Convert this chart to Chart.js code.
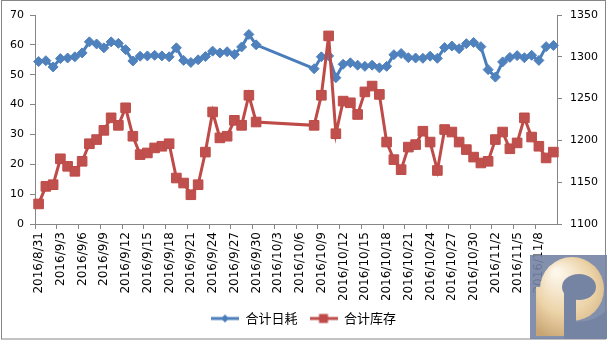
<!DOCTYPE html>
<html>
<head>
<meta charset="utf-8">
<script src="https://cdn.jsdelivr.net/npm/chart.js@4.4.0/dist/chart.umd.min.js"></script>
<style>
html,body{margin:0;padding:0;background:#fff;}
#wrap{width:607px;height:341px;position:relative;}
</style>
</head>
<body>
<div id="wrap"><canvas id="chart" width="607" height="341"></canvas></div>
<script>
// 数据
const dates = [
    "2016/8/31","2016/9/1","2016/9/2","2016/9/3","2016/9/4","2016/9/5","2016/9/6","2016/9/7","2016/9/8","2016/9/9",
    "2016/9/10","2016/9/11","2016/9/12","2016/9/13","2016/9/14","2016/9/15","2016/9/16","2016/9/17","2016/9/18","2016/9/19",
    "2016/9/20","2016/9/21","2016/9/22","2016/9/23","2016/9/24","2016/9/25","2016/9/26","2016/9/27","2016/9/28","2016/9/29",
    "2016/9/30",
    "2016/10/8","2016/10/9","2016/10/10","2016/10/11","2016/10/12","2016/10/13","2016/10/14","2016/10/15","2016/10/16","2016/10/17",
    "2016/10/18","2016/10/19","2016/10/20","2016/10/21","2016/10/22","2016/10/23","2016/10/24","2016/10/25","2016/10/26","2016/10/27",
    "2016/10/28","2016/10/29","2016/10/30","2016/10/31","2016/11/1","2016/11/2","2016/11/3","2016/11/4","2016/11/5","2016/11/6",
    "2016/11/7","2016/11/8","2016/11/9","2016/11/10"
];
const dailyUse = [
    54.4,54.7,52.6,55.4,55.6,56.0,57.3,61.0,60.3,59.0,
    61.0,60.5,58.4,54.6,56.2,56.3,56.5,56.3,56.0,59.0,
    54.8,54.1,55.0,56.1,57.9,57.3,57.7,56.8,59.3,63.5,
    60.0,
    52.0,56.0,56.3,49.0,53.5,54.0,53.2,52.8,53.2,52.3,
    52.8,56.7,57.1,55.7,55.6,55.5,56.2,55.5,59.1,59.6,
    58.7,60.4,60.8,59.4,51.7,49.2,54.3,55.8,56.4,55.7,
    56.5,54.8,59.4,59.8
];
const stock = [
    1124,1145,1147,1178,1169,1163,1175,1196,1201,1212,
    1227,1218,1239,1205,1183,1185,1191,1193,1196,1155,
    1149,1135,1147,1186,1234,1203,1205,1224,1218,1254,
    1222,
    1218,1254,1325,1208,1247,1245,1231,1258,1265,1255,
    1198,1177,1165,1192,1195,1211,1198,1164,1213,1210,
    1198,1189,1180,1173,1175,1201,1210,1190,1197,1227,
    1204,1193,1179,1186
];
const seriesNames = ["合计日耗", "合计库存"];
const firstDay = "2016/8/31";
const lastDay = "2016/11/10";
const labelStep = 3;

function dayIndex(s){
    let p = s.split("/");
    return Math.round((Date.UTC(+p[0], +p[1]-1, +p[2]) - Date.UTC(2016, 7, 31)) / 86400000);
}
function dayLabel(i){
    let d = new Date(Date.UTC(2016, 7, 31) + Math.round(i) * 86400000);
    return d.getUTCFullYear() + "/" + (d.getUTCMonth()+1) + "/" + d.getUTCDate();
}

let usePts = new Array();
let stockPts = new Array();
for(let i=0; i<dates.length; i++){
    usePts.push({x:dayIndex(dates[i]), y:dailyUse[i]});
    stockPts.push({x:dayIndex(dates[i]), y:stock[i]});
}
const lastIdx = dayIndex(lastDay);

function legendIcon(color, shape){
    let c = document.createElement("canvas");
    c.width = 28; c.height = 12;
    let g = c.getContext("2d");
    g.strokeStyle = color; g.lineWidth = 3;
    g.beginPath(); g.moveTo(0,6); g.lineTo(28,6); g.stroke();
    g.fillStyle = color;
    if(shape == "diamond"){
        g.beginPath(); g.moveTo(14,2); g.lineTo(18,6); g.lineTo(14,10); g.lineTo(10,6); g.closePath(); g.fill();
    } else {
        g.fillRect(9.5,1.5,9,9);
    }
    return c;
}
const iconBlue = legendIcon("#4A7EBB", "diamond");
const iconRed = legendIcon("#BE4B48", "square");

const axisGrey = "#868686";
const tickFont = {family:"DejaVu Sans", size:11};

const frameAndLogo = {
    id:"frameAndLogo",
    afterDraw:function(chart){
        let ctx = chart.ctx;
        ctx.save();
        // 外框
        ctx.strokeStyle = axisGrey;
        ctx.lineWidth = 1;
        ctx.strokeRect(1.5, 0.5, 604, 338.5);
        // 右下角标志
        ctx.fillStyle = "rgba(118,132,164,0.9)";
        ctx.fillRect(530, 255, 77, 84);
        let grad = ctx.createRadialGradient(556, 272, 3, 572, 295, 50);
        grad.addColorStop(0, "#fdf6ea");
        grad.addColorStop(0.55, "#ecd3a8");
        grad.addColorStop(1, "#c7a472");
        ctx.fillStyle = grad;
        ctx.beginPath();
        ctx.arc(572, 289, 32, 0, Math.PI*2);
        ctx.fill();
        ctx.beginPath();
        ctx.moveTo(536, 287);
        ctx.lineTo(536, 336);
        ctx.lineTo(564, 336);
        ctx.lineTo(564, 287);
        ctx.closePath();
        ctx.fill();
        ctx.fillStyle = "rgb(118,132,164)";
        ctx.beginPath();
        ctx.ellipse(579, 287, 17, 13, 0, 0, Math.PI*2);
        ctx.fill();
        ctx.fillRect(564, 289, 12, 50);
        ctx.beginPath();
        ctx.moveTo(576, 339);
        ctx.lineTo(576, 322);
        ctx.quadraticCurveTo(595, 322, 607, 310);
        ctx.lineTo(607, 339);
        ctx.closePath();
        ctx.fill();
        ctx.restore();
    }
};

let myChart = new Chart(document.getElementById("chart"), {
    type:"line",
    plugins:[frameAndLogo],
    data:{
        datasets:[
            {
                label:seriesNames[0],
                data:usePts,
                yAxisID:"y",
                borderColor:"#4A7EBB",
                backgroundColor:"#4F81BD",
                borderWidth:3,
                pointStyle:"rectRot",
                pointRadius:5,
                pointBorderWidth:1,
                pointBackgroundColor:"#4F81BD",
                pointBorderColor:"#4F81BD",
                tension:0,
                clip:false,
                order:1
            },
            {
                label:seriesNames[1],
                data:stockPts,
                yAxisID:"y1",
                borderColor:"#BE4B48",
                backgroundColor:"#C0504D",
                borderWidth:3,
                pointStyle:"rect",
                pointRadius:6.8,
                pointBorderWidth:1,
                pointBackgroundColor:"#C0504D",
                pointBorderColor:"#BE4B48",
                tension:0,
                clip:false,
                order:0
            }
        ]
    },
    options:{
        responsive:false,
        animation:false,
        layout:{padding:{top:15, left:0, right:0, bottom:6}},
        plugins:{
            tooltip:{enabled:false},
            legend:{
                position:"bottom",
                labels:{
                    usePointStyle:true,
                    pointStyleWidth:28,
                    padding:12,
                    color:"#000",
                    font:{family:"Noto Sans CJK SC", size:13},
                    generateLabels:function(chart){
                        return [
                            {text:seriesNames[0], pointStyle:iconBlue, fillStyle:"#4F81BD", strokeStyle:"#4F81BD", lineWidth:0, hidden:false, datasetIndex:0},
                            {text:seriesNames[1], pointStyle:iconRed, fillStyle:"#C0504D", strokeStyle:"#C0504D", lineWidth:0, hidden:false, datasetIndex:1}
                        ];
                    }
                }
            }
        },
        scales:{
            x:{
                type:"linear",
                min:-0.5,
                max:lastIdx + 0.5,
                afterBuildTicks:function(scale){
                    let t = new Array();
                    for(let v=-0.5; v<lastIdx-2; v+=labelStep) t.push({value:v});
                    scale.ticks = t;
                },
                afterFit:function(scale){ scale.height = 76; },
                ticks:{
                    autoSkip:false,
                    minRotation:90,
                    maxRotation:90,
                    labelOffset:4,
                    padding:3,
                    color:"#000",
                    font:{family:"DejaVu Sans", size:12},
                    callback:function(v){ return dayLabel(v + 0.5); }
                },
                grid:{drawOnChartArea:false, tickLength:5, color:axisGrey},
                border:{color:axisGrey}
            },
            y:{
                position:"left",
                min:0, max:70,
                afterFit:function(scale){ scale.width = 35; },
                ticks:{stepSize:10, padding:6, color:"#000", font:tickFont},
                grid:{drawOnChartArea:false, tickLength:5, color:axisGrey},
                border:{color:axisGrey}
            },
            y1:{
                position:"right",
                min:1100, max:1350,
                afterFit:function(scale){ scale.width = 50; },
                ticks:{stepSize:50, padding:8, color:"#000", font:tickFont, callback:function(v){ return String(v); }},
                grid:{drawOnChartArea:false, tickLength:5, color:axisGrey},
                border:{color:axisGrey}
            }
        }
    }
});
</script>
</body>
</html>
